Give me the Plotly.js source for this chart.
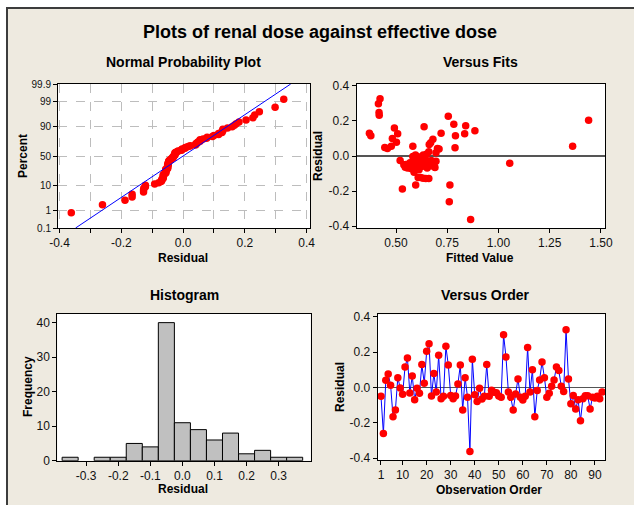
<!DOCTYPE html>
<html><head><meta charset="utf-8">
<script src="https://cdn.plot.ly/plotly-3.0.1.min.js"></script>
<style>html,body{margin:0;padding:0;background:#fff;} #chart{width:634px;height:505px;}</style>
</head><body><div id="chart"></div>
<script>
// Residuals in observation order (read from "Versus Order")
const residuals = [
-0.050,-0.261,0.040,0.076,0.012,-0.165,-0.127,0.055,-0.003,-0.039,
0.115,0.166,-0.032,0.065,-0.069,-0.005,-0.033,0.129,0.024,0.204,
0.247,-0.048,0.078,-0.026,0.181,-0.064,-0.050,0.232,0.126,-0.045,
-0.064,-0.048,0.019,0.126,-0.128,0.055,-0.056,-0.362,0.159,-0.041,
-0.079,-0.005,-0.065,-0.050,0.129,-0.050,-0.016,-0.028,-0.030,-0.048,
-0.056,0.298,0.172,-0.026,-0.056,-0.128,-0.037,0.048,-0.056,-0.071,
-0.050,0.226,-0.026,0.100,-0.165,-0.018,0.042,0.144,0.055,-0.056,
-0.033,0.006,0.042,0.115,0.095,0.006,-0.023,0.326,0.047,-0.092,
-0.045,-0.122,-0.069,-0.188,-0.064,-0.047,-0.047,-0.122,-0.056,-0.060,
-0.050,-0.064,-0.026];
// Fitted values in observation order (read from "Versus Fits")
const fittedValues = [
0.538,0.760,0.710,0.669,0.650,0.596,0.632,0.477,0.582,0.568,
0.377,0.637,0.585,0.662,0.556,0.615,0.610,0.370,0.660,1.440,
0.417,0.548,0.502,0.520,0.782,0.545,0.560,0.418,0.508,0.595,
0.565,0.605,0.695,0.835,0.645,0.582,0.552,0.864,0.492,1.055,
0.612,0.640,0.690,0.585,0.720,0.615,0.588,0.598,0.695,0.655,
0.570,0.414,0.840,0.628,0.590,0.660,0.640,0.445,0.640,0.572,
0.630,0.755,0.672,0.482,0.763,0.615,0.458,0.885,1.362,0.668,
0.662,0.633,0.702,0.790,0.680,0.595,0.603,0.422,0.788,0.588,
0.685,0.620,0.652,0.531,0.580,0.575,0.620,0.608,0.680,0.625,
0.675,0.600,0.648];

const probTickPercents = [0.1, 1, 10, 50, 90, 99, 99.9];
const probTickLabels = ["0.1","1","10","50","90","99","99.9"];
const resTickVals = [-0.4,-0.3,-0.2,-0.1,0,0.1,0.2,0.3,0.4];
const resTickText = ["-0.4","","-0.2","","0.0","","0.2","","0.4"];
const fitTickVals = [0.5,0.75,1.0,1.25,1.5];
const fitTickText = ["0.50","0.75","1.00","1.25","1.50"];
const yResTickVals = [-0.4,-0.2,0,0.2,0.4];
const yResTickText = ["-0.4","-0.2","0.0","0.2","0.4"];
const histTickVals = [-0.3,-0.2,-0.1,0,0.1,0.2,0.3];
const histTickText = ["-0.3","-0.2","-0.1","0.0","0.1","0.2","0.3"];
const freqTickVals = [0,10,20,30,40];
const orderTickVals = [1,10,20,30,40,50,60,70,80,90];

function invNorm(p){
  const a=[-3.969683028665376e+01,2.209460984245205e+02,-2.759285104469687e+02,1.383577518672690e+02,-3.066479806614716e+01,2.506628277459239e+00];
  const b=[-5.447609879822406e+01,1.615858368580409e+02,-1.556989798598866e+02,6.680131188771972e+01,-1.328068155288572e+01];
  const c=[-7.784894002430293e-03,-3.223964580411365e-01,-2.400758277161838e+00,-2.549732539343734e+00,4.374664141464968e+00,2.938163982698783e+00];
  const d=[7.784695709041462e-03,3.224671290700398e-01,2.445134137142996e+00,3.754408661907416e+00];
  const pl=0.02425; let q,r;
  if(p<pl){q=Math.sqrt(-2*Math.log(p));return (((((c[0]*q+c[1])*q+c[2])*q+c[3])*q+c[4])*q+c[5])/((((d[0]*q+d[1])*q+d[2])*q+d[3])*q+1);}
  if(p>1-pl){q=Math.sqrt(-2*Math.log(1-p));return -(((((c[0]*q+c[1])*q+c[2])*q+c[3])*q+c[4])*q+c[5])/((((d[0]*q+d[1])*q+d[2])*q+d[3])*q+1);}
  q=p-0.5;r=q*q;return (((((a[0]*r+a[1])*r+a[2])*r+a[3])*r+a[4])*r+a[5])*q/(((((b[0]*r+b[1])*r+b[2])*r+b[3])*r+b[4])*r+1);
}

const n = residuals.length;
const sorted = residuals.slice().sort((a,b)=>a-b);
const probY = sorted.map((v,i)=>invNorm((i+1-0.3)/(n+0.4)));
const mean = residuals.reduce((s,v)=>s+v,0)/n;
const sd = Math.sqrt(residuals.reduce((s,v)=>s+(v-mean)*(v-mean),0)/(n-1));
const zLo = invNorm(0.001), zHi = invNorm(0.999);
const obs = residuals.map((v,i)=>i+1);

const W=634, H=505;
const F = "'Liberation Sans', Arial, sans-serif";
const RED = '#FF0000', BLUE = '#0000FF';
const mk = {color:RED, size:7.5};

const traces = [
  {type:'scatter', mode:'markers', x:sorted, y:probY, xaxis:'x', yaxis:'y', marker:mk, hoverinfo:'skip'},
  {type:'scatter', mode:'lines', x:[mean+sd*zLo, mean+sd*zHi], y:[zLo,zHi], xaxis:'x', yaxis:'y', line:{color:BLUE, width:1}, hoverinfo:'skip'},
  {type:'scatter', mode:'markers', x:fittedValues, y:residuals, xaxis:'x2', yaxis:'y2', marker:mk, hoverinfo:'skip'},
  {type:'histogram', x:residuals, xaxis:'x3', yaxis:'y3', xbins:{start:-0.375, end:0.375, size:0.05}, autobinx:false,
   marker:{color:'#C0C0C0', line:{color:'#000', width:1}}, hoverinfo:'skip'},
  {type:'scatter', mode:'lines+markers', x:obs, y:residuals, xaxis:'x4', yaxis:'y4', line:{color:BLUE, width:1}, marker:mk, hoverinfo:'skip'}
];

function px(x){return x/W;} function py(y){return 1-y/H;}
function ax(d, r, extra){
  return Object.assign({domain:d, range:r, showline:true, mirror:true, linecolor:'#000', linewidth:1,
    ticks:'outside', ticklen:4, tickcolor:'#000', tickwidth:1, tickfont:{family:F, size:12, color:'#111'},
    showgrid:false, zeroline:false, fixedrange:true, tickmode:'array'}, extra);
}
const dashGrid = {showgrid:true, gridcolor:'#BDBDBD', gridwidth:1, griddash:'dash'};

const layout = {
  width:W, height:H, margin:{l:0,r:0,t:0,b:0}, showlegend:false,
  paper_bgcolor:'#EEEAE0', plot_bgcolor:'#FFFFFF', bargap:0,
  xaxis: ax([px(58),px(310)], [-0.405,0.411], Object.assign({anchor:'y', tickvals:resTickVals, ticktext:resTickText}, dashGrid)),
  yaxis: ax([py(228),py(84)], [zLo,zHi], Object.assign({anchor:'x', tickvals:probTickPercents.map(p=>invNorm(p/100)), ticktext:probTickLabels, tickfont:{family:F,size:10,color:'#111'}}, dashGrid)),
  xaxis2: ax([px(356.7),px(605)], [0.308,1.52], {anchor:'y2', tickvals:fitTickVals, ticktext:fitTickText}),
  yaxis2: ax([py(228),py(84)], [-0.41,0.41], {anchor:'x2', tickvals:yResTickVals, ticktext:yResTickText, zeroline:true, zerolinecolor:'#555', zerolinewidth:1.5}),
  xaxis3: ax([px(57.3),px(310.7)], [-0.39,0.40], {anchor:'y3', tickvals:histTickVals, ticktext:histTickText}),
  yaxis3: ax([py(460.7),py(314)], [0,42.5], {anchor:'x3', tickvals:freqTickVals, ticktext:freqTickVals.map(String)}),
  xaxis4: ax([px(377.7),px(605)], [-0.37,94.2], {anchor:'y4', tickvals:orderTickVals, ticktext:orderTickVals.map(String)}),
  yaxis4: ax([py(460),py(314.3)], [-0.41,0.413], {anchor:'x4', tickvals:yResTickVals, ticktext:yResTickText, zeroline:true, zerolinecolor:'#555', zerolinewidth:1.5}),
  shapes:[
    {type:'rect', xref:'paper', yref:'paper', x0:0, x1:1, y0:py(7), y1:1, fillcolor:'#FFFFFF', line:{width:0}},
    {type:'rect', xref:'paper', yref:'paper', x0:0, x1:px(6), y0:0, y1:1, fillcolor:'#FFFFFF', line:{width:0}},
    {type:'line', xref:'paper', yref:'paper', x0:px(6), x1:1, y0:py(8), y1:py(8), line:{color:'#3C3C3C', width:2}},
    {type:'line', xref:'paper', yref:'paper', x0:px(7), x1:px(7), y0:0, y1:py(8), line:{color:'#3C3C3C', width:2}}
  ],
  annotations:[]
};
function ann(text, x, y, size, angle){
  layout.annotations.push({text:'<b>'+text+'</b>', xref:'paper', yref:'paper', x:px(x), y:py(y),
    xanchor:'center', yanchor:'middle', showarrow:false, textangle:angle||0, font:{family:F, size:size, color:'#000'}});
}
ann('Plots of renal dose against effective dose', 320, 32, 18);
ann('Normal Probability Plot', 183, 62, 14);
ann('Versus Fits', 481, 62, 14);
ann('Histogram', 184, 295, 14);
ann('Versus Order', 485, 295, 14);
ann('Residual', 183, 258, 12);
ann('Percent', 23, 156, 12, -90);
ann('Fitted Value', 480, 258, 12);
ann('Residual', 318, 156, 12, -90);
ann('Frequency', 28, 387, 12, -90);
ann('Residual', 183, 489, 12);
ann('Observation Order', 489, 490, 12);
ann('Residual', 340, 387, 12, -90);

Plotly.newPlot('chart', traces, layout, {displayModeBar:false, staticPlot:true});
</script></body></html>
